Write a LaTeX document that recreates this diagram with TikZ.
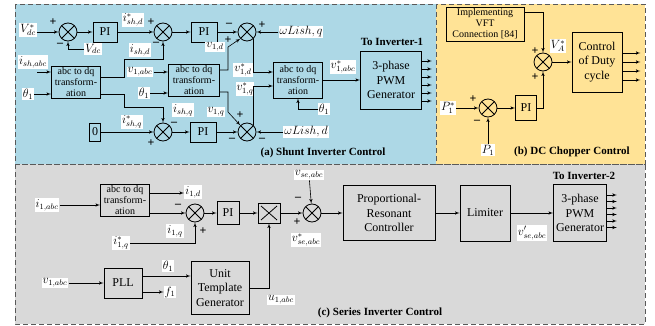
\documentclass[tikz,border=0pt,12pt]{standalone}
\usepackage[no-math]{fontspec}
\setmainfont{Liberation Serif}
\usetikzlibrary{arrows}
\definecolor{shuntbg}{RGB}{173,216,230}
\definecolor{chopbg}{RGB}{255,227,150}
\definecolor{seriesbg}{RGB}{217,217,217}

\begin{document}
\begin{tikzpicture}[x=1pt, y=-1pt]
    % Styles
    \tikzstyle{block} = [rectangle, draw, thick, text centered, align=center, inner sep=1pt]
    \tikzstyle{tfblock} = [block, font=\fontsize{10}{11}\selectfont, minimum width=49pt, minimum height=32pt, inner sep=0.5pt]
    \tikzstyle{piblock} = [block, minimum width=24pt, minimum height=20pt]
    \tikzstyle{sum} = [circle, draw, thick, minimum size=18pt, inner sep=0pt, path picture={\draw[thick] (path picture bounding box.north west) -- (path picture bounding box.south east) (path picture bounding box.south west) -- (path picture bounding box.north east);}]
    \tikzstyle{multbox} = [rectangle, draw, thick, minimum width=22pt, minimum height=20pt, path picture={\draw ([xshift=3pt,yshift=-3pt]path picture bounding box.north west) -- ([xshift=-3pt,yshift=3pt]path picture bounding box.south east) ([xshift=3pt,yshift=3pt]path picture bounding box.south west) -- ([xshift=-3pt,yshift=-3pt]path picture bounding box.north east);}]
    \tikzstyle{line} = [draw, -latex', semithick]
    \tikzstyle{lbl} = [fill=white, inner sep=1pt]
    \tikzstyle{sgn} = [font=\bfseries, inner sep=0pt]
    \tikzstyle{panel} = [draw=black!65, dash pattern=on 5pt off 3pt, thick]
    \tikzstyle{heading} = [font=\fontsize{11}{13}\selectfont\bfseries]

    \useasboundingbox (0,0) rectangle (655,326);

    % Panels
    \fill [shuntbg] (15,4) rectangle (436,164);
    \fill [chopbg] (436,4) rectangle (645,164);
    \fill [seriesbg] (15,164) rectangle (645,324);
    \draw [panel] (15,4) rectangle (436,164);
    \draw [panel] (436,4) rectangle (645,164);
    \draw [panel] (15,164) rectangle (645,324);

    % (a) Nodes
    \node [sum] (sa1) at (68,32) {};
    \node [piblock, right of=sa1, node distance=37pt] (pia1) {PI};
    \node [sum, right of=pia1, node distance=58pt] (sa2) {};
    \node [piblock, minimum width=26pt, right of=sa2, node distance=41pt] (pia2) {PI};
    \node [sum, right of=pia2, node distance=43pt] (sa4) {};
    \node [block, minimum width=11pt, minimum height=18pt] (zero) at (95,132) {0};
    \node [sum] (sa3) at (163,132) {};
    \node [piblock, minimum width=26pt, right of=sa3, node distance=40pt] (pia3) {PI};
    \node [sum, right of=pia3, node distance=44pt] (sa5) {};
    \node [tfblock] (tfa1) at (76,82) {abc to dq\\transform-\\ation};
    \node [tfblock, minimum width=51pt] (tfa2) at (194,80) {abc to dq\\transform-\\ation};
    \node [tfblock, minimum height=36pt] (tfa3) at (298,80) {abc to dq\\transform-\\ation};
    \node [block, minimum width=61pt, minimum height=58pt] (pwma) at (391,80) {3-phase\\PWM\\Generator};
    \node [heading] (toinva) at (392,42) {To Inverter-1};
    \node [heading] (titlea) at (323,153) {(a) Shunt Inverter Control};

    \node [lbl] (vdcref) at (28,30) {$V^*_{dc}$};
    \node [lbl] (vdc) at (93,49) {$V_{dc}$};
    \node [lbl] (ishabc) at (33,62) {$i_{sh,abc}$};
    \coordinate (ishin) at (37,72);
    \node [lbl] (th1a) at (28,94) {$\theta_1$};
    \node [lbl] (v1abca) at (140,72) {$v_{1,abc}$};
    \node [lbl] (th1b) at (144,93) {$\theta_1$};
    \node [lbl] (wlq) at (301,32) {$\omega Lish,q$};
    \node [lbl] (wld) at (306,132) {$\omega Lish,d$};
    \node [lbl] (th1c) at (324,109) {$\theta_1$};
    \node [lbl] at (133,20) {$i^*_{sh,d}$};
    \node [lbl] at (140,50) {$i_{sh,d}$};
    \node [lbl] at (183,110) {$i_{sh,q}$};
    \node [lbl] at (132,122) {$i^*_{sh,q}$};
    \node [lbl] at (215,47) {$v_{1,d}$};
    \node [lbl] at (216,112) {$v_{1,q}$};
    \node [lbl] at (243,70) {$v^*_{1,d}$};
    \node [lbl] at (245,89) {$v^*_{1,q}$};
    \node [lbl] at (343,67) {$v^*_{1,abc}$};
    \coordinate (ka1) at (124,59);
    \coordinate (ka2) at (124,107);
    \coordinate (kb1) at (228,47);
    \coordinate (kb2) at (228,112);

    \node [sgn] at (53,22) {+};
    \node [sgn] at (60,45) {--};
    \node [sgn] at (151,22) {+};
    \node [sgn] at (156,44) {--};
    \node [sgn] at (174,124) {--};
    \node [sgn] at (151,143) {+};
    \node [sgn] at (229,25) {--};
    \node [sgn] at (262,25) {+};
    \node [sgn] at (228,40) {+};
    \node [sgn] at (240,115) {+};
    \node [sgn] at (232,140) {--};
    \node [sgn] at (262,140) {--};

    % (a) Connections
    \path [line] (vdcref.east |- sa1) -- (sa1);
    \path [line] (vdc.west) -| (sa1.south);
    \path [line] (sa1) -- (pia1);
    \path [line] (pia1) -- (sa2);
    \path [line] (sa2) -- (pia2);
    \path [line] (pia2) -- (sa4);
    \path [line] (ishin) -- (ishin -| tfa1.west);
    \path [line] (th1a.east) -- (th1a.east -| tfa1.west);
    \path [line] ([yshift=5pt]tfa1.east) -| (ka1) -| (sa2.south);
    \path [line] ([yshift=-12pt]tfa1.east) -| (ka2) -| (sa3.north);
    \path [line] (zero) -- (sa3);
    \path [line] (sa3) -- (pia3);
    \path [line] (pia3) -- (sa5);
    \path [line] (v1abca.east) -- (v1abca.east -| tfa2.west);
    \path [line] (th1b.east) -- (th1b.east -| tfa2.west);
    \path [line] ([yshift=10pt]tfa2.east) -| (kb1) -- (sa4.south west);
    \path [line] ([yshift=-12pt]tfa2.east) -| (kb2) -- (sa5.north west);
    \path [line] (wlq) -- (sa4);
    \path [line] (wld) -- (sa5);
    \path [line] (sa4.south east) |- ([yshift=8pt]tfa3.west);
    \path [line] (sa5.north east) |- ([yshift=-6pt]tfa3.west);
    \path [line] (th1c.west) -| (tfa3.south);
    \path [line] (tfa3) -- (pwma);
    \foreach \dy in {19,11,3,-5,-13,-21}
        \path [line] ([yshift=\dy pt]pwma.east) -- ++(10,0);

    % (b) Nodes
    \node [block, font=\fontsize{10}{11}\selectfont, minimum width=78pt, minimum height=34pt, inner sep=0.5pt] (vft) at (485,24) {Implementing\\VFT\\Connection [84]};
    \node [sum] (sb1) at (543,62) {};
    \node [block, minimum width=50pt, minimum height=60pt] (cdc) at (597,62) {Control\\of Duty\\cycle};
    \node [sum] (sb2) at (488,108) {};
    \node [block, minimum width=21pt, minimum height=25pt] (pib) at (526,108) {PI};
    \node [lbl] (p1ref) at (448,108) {$P^*_1$};
    \node [lbl] (p1) at (488,150) {$P_1$};
    \node [lbl] at (558,46) {$V^*_A$};
    \node [heading] (titleb) at (572,152) {(b) DC Chopper Control};
    \node [sgn] at (535,51) {+};
    \node [sgn] at (535,77) {+};
    \node [sgn] at (473,99) {+};
    \node [sgn] at (477,122) {--};

    % (b) Connections
    \path [line] ([yshift=-6pt]vft.north east) -| (sb1.north);
    \path [line] (sb1) -- (cdc);
    \path [line] (p1ref.east) -- (sb2.west);
    \path [line] (p1) -- (sb2);
    \path [line] (sb2) -- (pib);
    \path [line] (pib.east) -| (sb1.south);
    \foreach \dy in {9,0,-9,-18}
        \path [line] ([yshift=\dy pt]cdc.east) -- ++(18,0);

    % (c) Nodes
    \node [lbl] (i1abc) at (47,205) {$i_{1,abc}$};
    \node [tfblock] (tfc) at (125,200) {abc to dq\\transform-\\ation};
    \node [lbl] (i1d) at (193,192) {$i_{1,d}$};
    \node [sum] (sc1) at (195,213) {};
    \node [lbl] at (175,231) {$i_{1,q}$};
    \node [lbl] (i1qref) at (121,243) {$i^*_{1,q}$};
    \node [block, minimum width=22pt, minimum height=23pt, right of=sc1, node distance=33pt] (pic) {PI};
    \node [multbox, right of=pic, node distance=41pt] (mult) {};
    \node [sum, right of=mult, node distance=43pt] (sc2) {};
    \node [lbl] (vse) at (309,175) {$v_{se,abc}$};
    \node [lbl] at (306,240) {$v^*_{se,abc}$};
    \node [block, minimum width=92pt, minimum height=55pt, right of=sc2, node distance=77pt] (prc) {Proportional-\\Resonant\\Controller};
    \node [block, minimum width=50pt, minimum height=56pt, right of=prc, node distance=96pt] (lim) {Limiter};
    \node [block, minimum width=53pt, minimum height=57pt, right of=lim, node distance=95pt] (pwmc) {3-phase\\PWM\\Generator};
    \node [lbl] at (532,233) {$v'_{se,abc}$};
    \node [heading] (toinvc) at (584,176) {To Inverter-2};
    \node [lbl] (v1abcc) at (55,283) {$v_{1,abc}$};
    \node [block, minimum width=38pt, minimum height=30pt] (pll) at (123,283) {PLL};
    \node [lbl] at (168,266) {$\theta_1$};
    \node [lbl] (f1) at (170,292) {$f_1$};
    \node [block, minimum width=58pt, minimum height=53pt] (utg) at (220,288) {Unit\\Template\\Generator};
    \node [lbl] at (281,300) {$u_{1,abc}$};
    \node [heading] (titlec) at (380,313) {(c) Series Inverter Control};
    \node [sgn] at (178,206) {--};
    \node [sgn] at (203,231) {+};
    \node [sgn] at (298,199) {--};
    \node [sgn] at (297,222) {+};

    % (c) Connections
    \path [line] (i1abc.east) -- (i1abc.east -| tfc.west);
    \path [line] ([yshift=7pt]tfc.east) -- ([yshift=7pt]tfc.east -| i1d.west);
    \path [line] ([yshift=-13pt]tfc.east) -- (sc1.west);
    \path [line] (i1qref.east) -| (sc1.south);
    \path [line] (sc1) -- (pic);
    \path [line] (pic) -- (mult);
    \path [line] (mult) -- (sc2);
    \path [line] (vse) -- (sc2);
    \path [line] (sc2) -- (prc);
    \path [line] (prc) -- (lim);
    \path [line] (lim) -- (pwmc);
    \foreach \dy in {18,11.5,5,-1.5,-8,-14.5}
        \path [line] ([yshift=\dy pt]pwmc.east) -- ++(10,0);
    \path [line] (v1abcc.east) -- (pll.west);
    \path [line] ([yshift=7pt]pll.east) -- ([yshift=7pt]pll.east -| utg.west);
    \path [line] ([yshift=-9pt]pll.east) -- ([yshift=-9pt]pll.east -| f1.west);
    \path [line] (utg.east) -| (mult.south);

\end{tikzpicture}
\end{document}
